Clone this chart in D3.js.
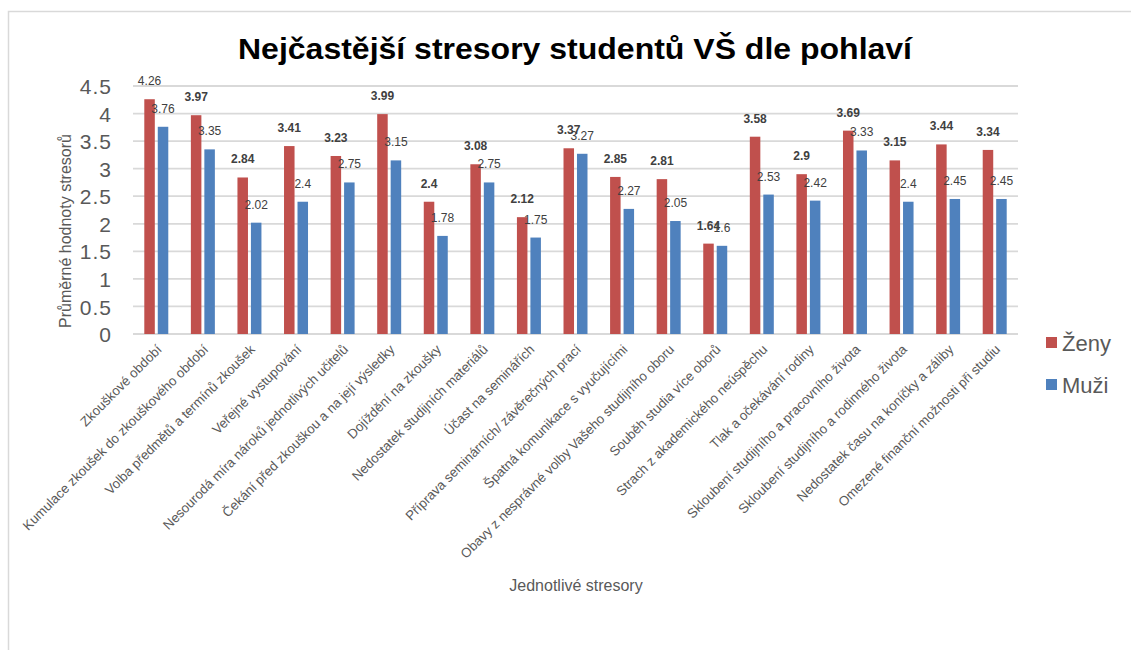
<!DOCTYPE html>
<html>
<head>
<meta charset="utf-8">
<script src="https://cdn.jsdelivr.net/npm/d3@7"></script>
<style>
	body { margin: 0; background: #fff; }
	svg { display: block; font-family: "Liberation Sans", Arial, sans-serif; }
</style>
</head>
<body>
<div id="chart"></div>
<script>
const categories = [
	"Zkouškové období",
	"Kumulace zkoušek do zkouškového období",
	"Volba předmětů a termínů zkoušek",
	"Veřejné vystupování",
	"Nesourodá míra nároků jednotlivých učitelů",
	"Čekání před zkouškou a na její výsledky",
	"Dojíždění na zkoušky",
	"Nedostatek studijních materiálů",
	"Účast na seminářích",
	"Příprava seminárních/ závěrečných prací",
	"Špatná komunikace s vyučujícími",
	"Obavy z nesprávné volby Vašeho studijního oboru",
	"Souběh studia více oborů",
	"Strach z akademického neúspěchu",
	"Tlak a očekávání rodiny",
	"Skloubení studijního a pracovního života",
	"Skloubení studijního a rodinného života",
	"Nedostatek času na koníčky a záliby",
	"Omezené finanční možnosti při studiu"
];

const zeny = [4.26, 3.97, 2.84, 3.41, 3.23, 3.99, 2.4, 3.08, 2.12, 3.37, 2.85, 2.81, 1.64, 3.58, 2.9, 3.69, 3.15, 3.44, 3.34];
const muzi = [3.76, 3.35, 2.02, 2.4, 2.75, 3.15, 1.78, 2.75, 1.75, 3.27, 2.27, 2.05, 1.6, 2.53, 2.42, 3.33, 2.4, 2.45, 2.45];

const seriesNames = ["Ženy", "Muži"];
const yTicks = [0, 0.5, 1, 1.5, 2, 2.5, 3, 3.5, 4, 4.5];

const chartTitle = "Nejčastější stresory studentů VŠ dle pohlaví";
const yTitle = "Průměrné hodnoty stresorů";
const xTitle = "Jednotlivé stresory";

const colors = { "Ženy": "#C0504D", "Muži": "#4F81BD" };
const gridColor = "#D9D9D9";
const textGrey = "#595959";

let w = 1131, h = 650;
let margin = { left: 133, right: 113, top: 86, bottom: 316 };

let svg = d3.select("#chart").append("svg")
	.attr("width", w)
	.attr("height", h);

// outer chart frame
svg.append("rect")
	.attr("x", 8.5)
	.attr("y", 11.5)
	.attr("width", w + 20)
	.attr("height", h + 20)
	.attr("fill", "none")
	.attr("stroke", gridColor)
	.attr("stroke-width", 1.5);

let data = categories.map((c, i) => {
	return { category: c, index: i, values: [
		{ key: "Ženy", value: zeny[i], bold: i > 0 },
		{ key: "Muži", value: muzi[i], bold: false }
	]};
});

let x0 = d3.scaleBand()
	.domain(categories)
	.range([margin.left, w - margin.right])
	.paddingInner(0.485)
	.paddingOuter(0.2425);

let x1 = d3.scaleBand()
	.domain(seriesNames)
	.range([0, x0.bandwidth()])
	.paddingInner(0.22);

let y = d3.scaleLinear()
	.domain([0, 4.5])
	.range([h - margin.bottom, margin.top]);

// gridlines
svg.append("g")
	.selectAll("line")
	.data(yTicks)
	.enter().append("line")
	.attr("x1", margin.left)
	.attr("x2", w - margin.right)
	.attr("y1", (d) => { return y(d); })
	.attr("y2", (d) => { return y(d); })
	.attr("stroke", gridColor)
	.attr("stroke-width", 1.8);

// y axis labels
let yAxis = d3.axisLeft(y)
	.tickValues(yTicks)
	.tickSize(0)
	.tickPadding(0)
	.tickFormat(d3.format("~g"));

let yAxisG = svg.append("g")
	.attr("transform", "translate(112,0)")
	.call(yAxis);
yAxisG.select(".domain").remove();
yAxisG.selectAll("text")
	.attr("fill", textGrey)
	.style("font-size", "21px")
	.style("letter-spacing", "1px")
	.attr("dy", "0.36em");

// bars
let groups = svg.append("g")
	.selectAll("g")
	.data(data)
	.enter().append("g")
	.attr("transform", (d) => { return "translate(" + x0(d.category) + ",0)"; });

groups.selectAll("rect")
	.data((d) => { return d.values; })
	.enter().append("rect")
	.attr("x", (d) => { return x1(d.key); })
	.attr("y", (d) => { return y(d.value); })
	.attr("width", x1.bandwidth())
	.attr("height", (d) => { return y(0) - y(d.value); })
	.attr("fill", (d) => { return colors[d.key]; });

groups.selectAll("text")
	.data((d) => { return d.values; })
	.enter().append("text")
	.attr("x", (d) => { return x1(d.key) + x1.bandwidth() / 2; })
	.attr("y", (d) => { return y(d.value) - 14; })
	.attr("text-anchor", "middle")
	.attr("fill", "#404040")
	.style("font-size", "12px")
	.style("font-weight", (d) => { return d.bold ? "bold" : "normal"; })
	.text((d) => { return d.value; });

// x axis category labels
let xAxis = d3.axisBottom(x0).tickSize(0).tickPadding(0);
let xAxisG = svg.append("g")
	.attr("transform", "translate(0," + (y(0) + 13) + ")")
	.call(xAxis);
xAxisG.select(".domain").remove();
xAxisG.selectAll("text")
	.attr("fill", textGrey)
	.style("font-size", "13.3px")
	.attr("text-anchor", "end")
	.attr("dy", "0.35em")
	.attr("transform", "translate(3,0) rotate(-45)");

// titles
svg.append("text")
	.attr("x", 575)
	.attr("y", 59)
	.attr("text-anchor", "middle")
	.attr("fill", "#000")
	.style("font-size", "30px")
	.style("font-weight", "bold")
	.attr("textLength", 674)
	.attr("lengthAdjust", "spacingAndGlyphs")
	.text(chartTitle);

svg.append("text")
	.attr("transform", "translate(71," + 231 + ") rotate(-90)")
	.attr("text-anchor", "middle")
	.attr("fill", textGrey)
	.style("font-size", "16px")
	.text(yTitle);

svg.append("text")
	.attr("x", 576)
	.attr("y", 591)
	.attr("text-anchor", "middle")
	.attr("fill", textGrey)
	.style("font-size", "16px")
	.text(xTitle);

// legend
let legend = svg.append("g")
	.selectAll("g")
	.data(seriesNames)
	.enter().append("g")
	.attr("transform", (d, i) => { return "translate(1046," + (343 + i * 42) + ")"; });

legend.append("rect")
	.attr("x", 0)
	.attr("y", -6)
	.attr("width", 11)
	.attr("height", 11)
	.attr("fill", (d) => { return colors[d]; });

legend.append("text")
	.attr("x", 16)
	.attr("y", 0)
	.attr("dy", "0.36em")
	.attr("fill", textGrey)
	.style("font-size", "22px")
	.text((d) => { return d; });
</script>
</body>
</html>
